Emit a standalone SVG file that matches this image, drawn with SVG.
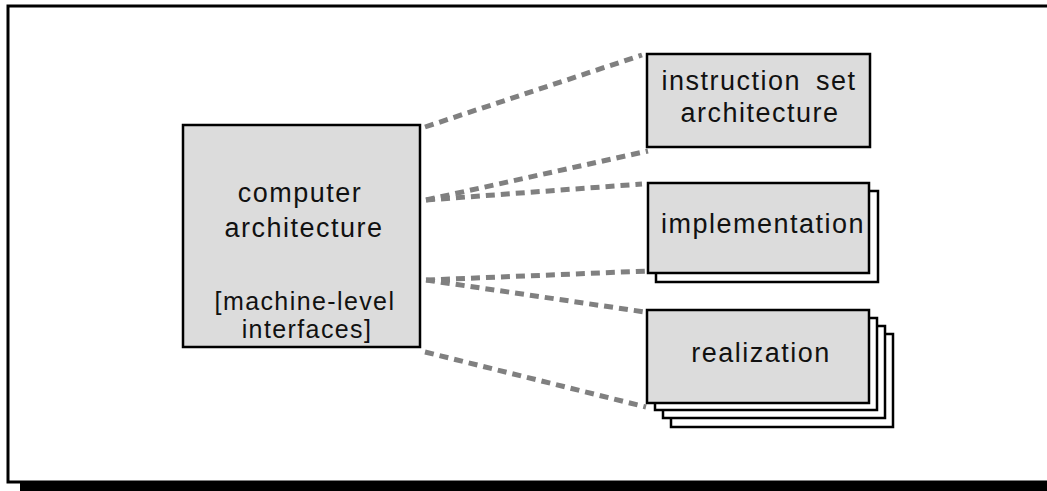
<svg xmlns="http://www.w3.org/2000/svg" width="1047" height="491" viewBox="0 0 1047 491">
  <style>
    .box { fill: #dcdcdc; stroke: #000; stroke-width: 2.5; }
    .back { fill: #fff; stroke: #000; stroke-width: 2.5; }
    .t { font-family: "Liberation Sans", Arial, sans-serif; font-size: 27px; letter-spacing: 1.5px; fill: #111; text-anchor: middle; }
    .s { font-size: 25px; letter-spacing: 1.4px; }
    .conn { stroke: #808080; stroke-width: 5; stroke-dasharray: 9 6; fill: none; }
  </style>
  <rect x="0" y="0" width="1047" height="491" fill="#fff"/>
  <g id="frame">
    <rect x="20" y="14" width="1100" height="480" fill="#000"/>
    <rect x="8" y="6" width="1100" height="476" fill="#fff" stroke="#000" stroke-width="3"/>
  </g>
  <g id="connectors">
    <line class="conn" x1="425" y1="127" x2="642" y2="55"/>
    <line class="conn" x1="426" y1="200" x2="648" y2="151"/>
    <line class="conn" x1="426" y1="200" x2="642" y2="184"/>
    <line class="conn" x1="426" y1="280" x2="648" y2="271"/>
    <line class="conn" x1="426" y1="280" x2="645" y2="312"/>
    <line class="conn" x1="425" y1="352" x2="646" y2="407"/>
  </g>
  <g id="computer-architecture">
    <rect class="box" x="183" y="125" width="237" height="222"/>
    <text class="t" x="300" y="202">computer</text>
    <text class="t" x="304" y="237">architecture</text>
    <text class="t s" x="305" y="310">[machine-level</text>
    <text class="t s" x="307" y="338">interfaces]</text>
  </g>
  <g id="instruction-set-architecture">
    <rect class="box" x="647" y="54" width="223" height="93"/>
    <text class="t" x="759" y="90" word-spacing="6">instruction set</text>
    <text class="t" x="760" y="122">architecture</text>
  </g>
  <g id="implementation">
    <rect class="back" x="656" y="191" width="222" height="91"/>
    <rect class="box" x="648" y="183" width="221" height="90"/>
    <text class="t" x="763" y="233">implementation</text>
  </g>
  <g id="realization">
    <rect class="back" x="671" y="334" width="222" height="93"/>
    <rect class="back" x="663" y="326" width="222" height="92"/>
    <rect class="back" x="655" y="318" width="222" height="92"/>
    <rect class="box" x="647" y="310" width="222" height="93"/>
    <text class="t" x="761" y="362">realization</text>
  </g>
</svg>
